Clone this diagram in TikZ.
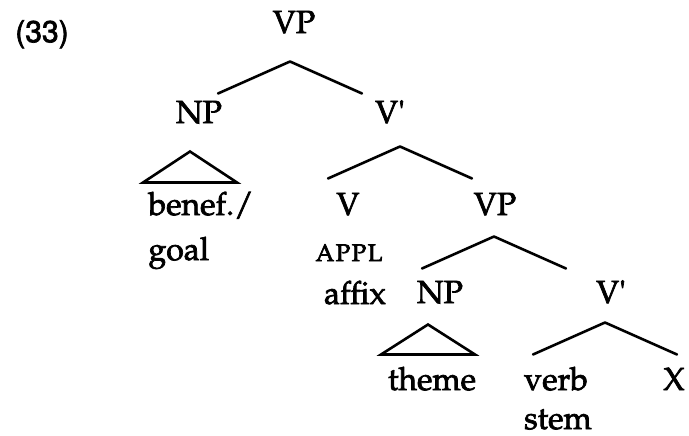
\documentclass[tikz,border=0pt]{standalone}
\usepackage[T1]{fontenc}
\usepackage{mathpazo}
\usepackage{tikz}
\usetikzlibrary{positioning,calc}

% slightly heavier strokes for the tree labels
\newcommand{\heavyink}{\special{pdf:literal direct 2 Tr 0.35 w}}
\tikzset{
  cat/.style={inner sep=0pt, text height=11pt, text depth=3.5pt, font=\fontsize{16}{19}\selectfont\heavyink},
  branch/.style={line width=1.3pt, line join=round, line cap=round},
  roof/.style={branch, line join=miter}
}
\newcommand{\vbarlabel}{V\textquotesingle}

\begin{document}
\begin{tikzpicture}[
  on grid,
  exnum/.style={font=\fontsize{15}{18}\fontfamily{phv}\selectfont\heavyink, inner sep=0pt, anchor=base}
]
\useasboundingbox (0,0) rectangle (344.5pt,-217.5pt);

\node[exnum] (num) at (21pt,-21pt) {(33)};

% upper VP
\node[cat] (vp) at (147pt,-12.75pt) {VP};
\node[cat, below left=45pt and 47.5pt of vp] (np) {NP};
\node[cat, below right=45pt and 48pt of vp] (vbar) {\vbarlabel};
\coordinate (vp-a) at ($(vp)+(-2pt,-18pt)$);
\draw[branch] ($(vp-a)+(-36pt,-16pt)$) -- (vp-a) -- ($(vp-a)+(36pt,-16pt)$);

% benefactive object
\node[cat, below=46pt of np, xshift=1pt] (benef) {benef./};
\node[cat, anchor=base west] (goal) at ([yshift=-22.5pt]benef.base west) {goal};
\coordinate (np-a) at ($(np)+(-4.5pt,-18pt)$);
\draw[roof] (np-a) -- ++(-23.5pt,-15.5pt) -- ++(47pt,0) -- cycle;

% V' over the applicative head
\node[cat, below left=46pt and 21pt of vbar] (v) {V};
\node[cat, below right=46pt and 52.5pt of vbar] (vp2) {VP};
\coordinate (vbar-a) at ($(vbar)+(5pt,-15.5pt)$);
\draw[branch] ($(vbar-a)+(-36pt,-16pt)$) -- (vbar-a) -- ($(vbar-a)+(36pt,-16pt)$);

\node[cat, below=23pt of v, xshift=0.5pt, font=\fontsize{15}{18}\selectfont\scshape\heavyink] (appl) {appl};
\node[cat, below=21.5pt of appl, xshift=3pt] (affix) {affix};

% lower VP
\node[cat, below left=44pt and 27.5pt of vp2] (np2) {NP};
\node[cat, below right=44pt and 58pt of vp2] (vbar2) {\vbarlabel};
\coordinate (vp2-a) at ($(vp2)+(-0.5pt,-14.5pt)$);
\draw[branch] ($(vp2-a)+(-36pt,-16pt)$) -- (vp2-a) -- ($(vp2-a)+(36pt,-16pt)$);

\node[cat, below=43.5pt of np2, xshift=-4pt] (theme) {theme};
\coordinate (np2-a) at ($(np2)+(-6pt,-14.5pt)$);
\draw[roof] (np2-a) -- ++(-23.5pt,-15pt) -- ++(47pt,0) -- cycle;

\node[cat, below left=43.5pt and 27.5pt of vbar2] (verb) {verb};
\node[cat, text depth=0pt, anchor=base west] (stem) at ([yshift=-19.5pt]verb.base west) {stem};
\node[cat, below right=43.5pt and 31.5pt of vbar2] (x) {X};
\coordinate (vbar2-a) at ($(vbar2)+(-3pt,-13.5pt)$);
\draw[branch] ($(vbar2-a)+(-36pt,-16pt)$) -- (vbar2-a) -- ($(vbar2-a)+(36pt,-16pt)$);
\end{tikzpicture}
\end{document}
